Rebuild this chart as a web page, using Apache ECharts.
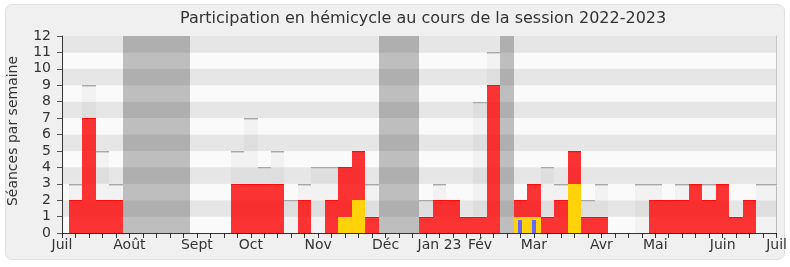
<!DOCTYPE html>
<html><head><meta charset="utf-8">
<script src="https://cdn.jsdelivr.net/npm/echarts@6/dist/echarts.min.js"></script>
<style>
html,body{margin:0;padding:0;background:#fff}
#bg{position:absolute;left:5px;top:4px;width:778px;height:254px;border-radius:7px;background:#f0f0f0;border:1px solid #e0e0e0}
#c{position:absolute;left:0;top:0;width:790px;height:267px}
</style>
</head><body><div id="bg"></div><div id="c"></div>
<script>
// Week categories (tick labels; empty = unlabeled week)
const xLabels = ['Juil','','','','','Août','','','','','Sept','','','','Oct','','','','','Nov','','','','','Déc','','','','Jan 23','','','Fév','','','','Mar','','','','','Avr','','','','Mai','','','','','Juin','','','','Juil'];
// Light grey bars: max weekly sittings
const seancesMax = [0,3,9,5,3, 0,0,0,0,0, 0,0,0, 5,7,4,5,2,3,4,4,4,5,3, 0,0,0, 2,3,2,1,8,11, 0, 2,3,4,3,5,2,3,0,0,3,3,2,3,3,3,3,1,2,3,3];
// Red bars: weekly presence
const presences = [0,2,7,2,2, 0,0,0,0,0, 0,0,0, 3,3,3,3,0,2,0,2,4,5,1, 0,0,0, 1,2,2,1,1,9, 0, 2,3,1,2,5,1,1,0,0,0,2,2,2,3,2,3,1,2,0,0];
// Yellow bars
const interventions = [0,0,0,0,0, 0,0,0,0,0, 0,0,0, 0,0,0,0,0,0,0,0,1,2,0, 0,0,0, 0,0,0,0,0,0, 0, 1,1,0,0,3,0,0,0,0,0,0,0,0,0,0,0,0,0,0,0];
// Blue thin bars
const questions = [0,0,0,0,0, 0,0,0,0,0, 0,0,0, 0,0,0,0,0,0,0,0,0,0,0, 0,0,0, 0,0,0,0,0,0, 0, 0.8,0.8,0,0,0,0,0,0,0,0,0,0,0,0,0,0,0,0,0,0];
// Parliamentary holidays (full height)
const vacances = [0,0,0,0,0, 12,12,12,12,12, 0,0,0, 0,0,0,0,0,0,0,0,0,0,0, 12,12,12, 0,0,0,0,0,0, 12, 0,0,0,0,0,0,0,0,0,0,0,0,0,0,0,0,0,0,0,0];

const FONT = 'DejaVu Sans';
function pairs(arr){ return arr.map((v,i)=>[i,v]); }
function barItem(fill, tops, widthPx){
  return function(params, api){
    const v = api.value(1);
    if (!v) return null;
    const i = api.value(0);
    const p0 = api.coord([i,0]);
    const p1 = api.coord([i,v]);
    const bw = widthPx || api.size([1,0])[0];
    const cs = params.coordSys;
    const x0 = Math.round(Math.max(p0[0]-bw/2, cs.x));
    const x1 = Math.round(Math.min(p0[0]+bw/2, cs.x+cs.width));
    const yb = Math.round(p0[1]), yt = Math.round(p1[1]);
    if (x1 <= x0) return null;
    const children = [{type:'rect', shape:{x:x0, y:yt, width:x1-x0, height:yb-yt}, style:{fill:fill}}];
    let off = 0;
    (tops||[]).forEach(t=>{
      children.push({type:'rect', shape:{x:x0, y:yt+off, width:x1-x0, height:t[1]}, style:{fill:t[0]}});
      off += t[1];
    });
    return {type:'group', children};
  };
}
function customSeries(arr, fn){
  return {type:'custom', data: pairs(arr), encode:{x:0,y:1}, renderItem: fn, silent:true, animation:false};
}
const chart = echarts.init(document.getElementById('c'), null, {renderer:'canvas'});
chart.setOption({
  backgroundColor:'transparent',
  animation:false,
  title:{text:'Participation en hémicycle au cours de la session 2022-2023', left:180, top:11, padding:0,
    textStyle:{fontFamily:FONT, fontSize:16, fontWeight:'normal', color:'#333'}},
  grid:{left:62, right:10, top:36, bottom:34},
  xAxis:[{
    type:'category', data:xLabels, boundaryGap:false, position:'bottom',
    axisLine:{lineStyle:{color:'#333', width:1}},
    axisTick:{interval:0, length:5, lineStyle:{color:'#333'}},
    axisLabel:{interval:0, showMinLabel:true, showMaxLabel:true, margin:5, fontFamily:FONT, fontSize:14, color:'#333'},
    splitLine:{show:false}
  },{
    type:'category', data:xLabels, boundaryGap:false, position:'top',
    axisLine:{show:false},
    axisTick:{interval:0, inside:true, length:2, lineStyle:{color:'#222'}},
    axisLabel:{show:false}, splitLine:{show:false}
  }],
  yAxis:[{
    type:'value', min:0, max:12, interval:1,
    axisLine:{show:true, lineStyle:{color:'#333'}},
    axisTick:{show:true, length:5, lineStyle:{color:'#555'}},
    axisLabel:{margin:11, fontFamily:FONT, fontSize:14, color:'#333'},
    splitLine:{show:false},
    splitArea:{show:true, areaStyle:{color:['#fafafa','#e6e6e6']}}
  },{
    type:'value', min:0, max:12, interval:1, position:'right',
    axisLine:{show:true, lineStyle:{color:'#c4c4c4'}},
    axisTick:{show:false}, axisLabel:{show:false}, splitLine:{show:false}
  }],
  graphic:[{
    type:'text', x:13, y:131, rotation:Math.PI/2,
    style:{text:'Séances par semaine', font:'14px "DejaVu Sans"', fill:'#333', textAlign:'center', textVerticalAlign:'middle'}
  }],
  series:[
    customSeries(seancesMax, barItem('rgba(0,0,0,0.03)', [['#a8a8a8',1],['#d2d2d2',1]])),
    customSeries(vacances, barItem('rgba(0,0,0,0.24)')),
    customSeries(presences, barItem('rgba(255,0,0,0.79)', [['#ff0a0a',1]])),
    customSeries(interventions, barItem('#ffd20a')),
    customSeries(questions, barItem('#6666ff', null, 4))
  ]
});
</script>
</body></html>
